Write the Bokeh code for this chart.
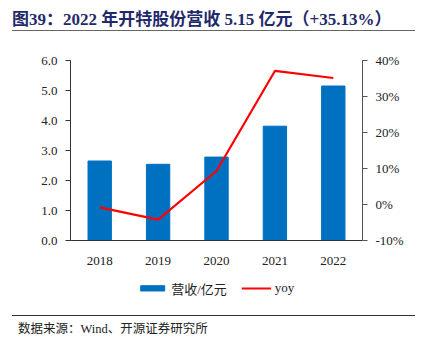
from bokeh.plotting import figure
from bokeh.layouts import column
from bokeh.models import (Range1d, FactorRange, LinearAxis, FixedTicker, PrintfTickFormatter,
                          NumeralTickFormatter, Legend, LegendItem, ColumnDataSource, Div)
from bokeh.embed import file_html
from bokeh.resources import INLINE

years = ["2018", "2019", "2020", "2021", "2022"]
revenue = [2.65, 2.54, 2.78, 3.81, 5.15]
yoy = [-0.8, -4.2, 9.3, 37.1, 35.13]
left_ticks = [0, 1, 2, 3, 4, 5, 6]
right_ticks = [-10, 0, 10, 20, 30, 40]

title_text = "图39：2022 年开特股份营收 5.15 亿元（+35.13%）"
source_text = "数据来源：Wind、开源证券研究所"
legend_labels = ["营收/亿元", "yoy"]

SERIF = "Liberation Serif"
MIXED = "'Liberation Serif', 'Noto Sans CJK SC'"

BAR_COLOR = "#0070C0"
LINE_COLOR = "#FF0000"
W = 430

# ---- title (HTML) ----
title_div = Div(
    text=(f"<div style=\"margin-left:12px;width:403px;height:31px;line-height:27px;"
          f"border-bottom:1.5px solid #666666;font-family:{MIXED};font-weight:bold;"
          f"font-size:17px;color:#1F2A6B;white-space:nowrap;padding-top:6px;\">{title_text}</div>"),
    width=W, height=45, margin=0)

# ---- chart ----
p = figure(frame_width=292, frame_height=180, x_range=FactorRange(*years, range_padding=0),
           y_range=Range1d(0, 6), output_backend="svg", toolbar_location=None,
           min_border_left=70, min_border_right=68, min_border_top=15, min_border_bottom=30,
           margin=0)
p.extra_y_ranges = {"yoy": Range1d(-10, 40)}
p.outline_line_color = None
p.xgrid.grid_line_color = None
p.ygrid.grid_line_color = None

src = ColumnDataSource(dict(x=years, rev=revenue, yoy=yoy))
p.vbar(x="x", top="rev", width=0.4, source=src, color=BAR_COLOR)
p.line(x="x", y="yoy", source=src, y_range_name="yoy", line_color=LINE_COLOR, line_width=2.2)

ax = p.yaxis[0]
ax.ticker = FixedTicker(ticks=left_ticks)
ax.formatter = NumeralTickFormatter(format="0.0")
ax.major_label_text_font = SERIF
ax.major_label_text_font_size = "13px"
ax.major_label_text_color = "#222222"
ax.axis_line_color = "#333333"
ax.major_tick_line_color = "#333333"
ax.major_tick_out = 5
ax.major_tick_in = 0
ax.minor_tick_line_color = None
ax.major_label_standoff = 8

rax = LinearAxis(y_range_name="yoy", ticker=FixedTicker(ticks=right_ticks),
                 formatter=PrintfTickFormatter(format="%d%%"))
rax.major_label_text_font = SERIF
rax.major_label_text_font_size = "13px"
rax.major_label_text_color = "#222222"
rax.axis_line_color = "#555555"
rax.major_tick_line_color = "#555555"
rax.major_tick_out = 5
rax.major_tick_in = 0
rax.minor_tick_line_color = None
rax.major_label_standoff = 8
p.add_layout(rax, "right")

xa = p.xaxis[0]
xa.major_label_text_font = SERIF
xa.major_label_text_font_size = "13px"
xa.major_label_text_color = "#222222"
xa.axis_line_color = "#333333"
xa.major_tick_line_color = None
xa.major_label_standoff = 10

# ---- legend strip (same data, drawn outside its visible range) ----
lg = figure(width=W, height=35, x_range=FactorRange(*years, range_padding=0),
            y_range=Range1d(1000, 1001), output_backend="svg", toolbar_location=None,
            min_border=0, margin=0, x_axis_location=None, y_axis_location=None,
            outline_line_color=None)
lg.xgrid.grid_line_color = None
lg.ygrid.grid_line_color = None
r_bar = lg.vbar(x="x", top="rev", width=0.4, source=src, color=BAR_COLOR)
r_line = lg.line(x="x", y="yoy", source=src, line_color=LINE_COLOR, line_width=2.2)
legend = Legend(items=[LegendItem(label=legend_labels[0], renderers=[r_bar]),
                       LegendItem(label=legend_labels[1], renderers=[r_line])],
                orientation="horizontal", location="center", border_line_color=None,
                background_fill_alpha=0, label_text_font="Liberation Serif, Noto Sans CJK SC",
                label_text_font_size="13px", label_text_color="#222222",
                glyph_width=30, glyph_height=7, spacing=14, padding=0, margin=0,
                label_standoff=4)
lg.add_layout(legend, "center")

# ---- source (HTML) ----
src_div = Div(
    text=(f"<div style=\"margin-left:12px;width:403px;margin-top:10px;border-top:1px solid #333333;"
          f"padding-top:5px;padding-left:6px;font-family:{MIXED};font-size:12.5px;color:#222222;"
          f"white-space:nowrap;\">{source_text}</div>"),
    width=W, height=46, margin=0)

layout = column(title_div, p, lg, src_div, spacing=0, margin=0)
open("out.html", "w").write(file_html(layout, INLINE))
